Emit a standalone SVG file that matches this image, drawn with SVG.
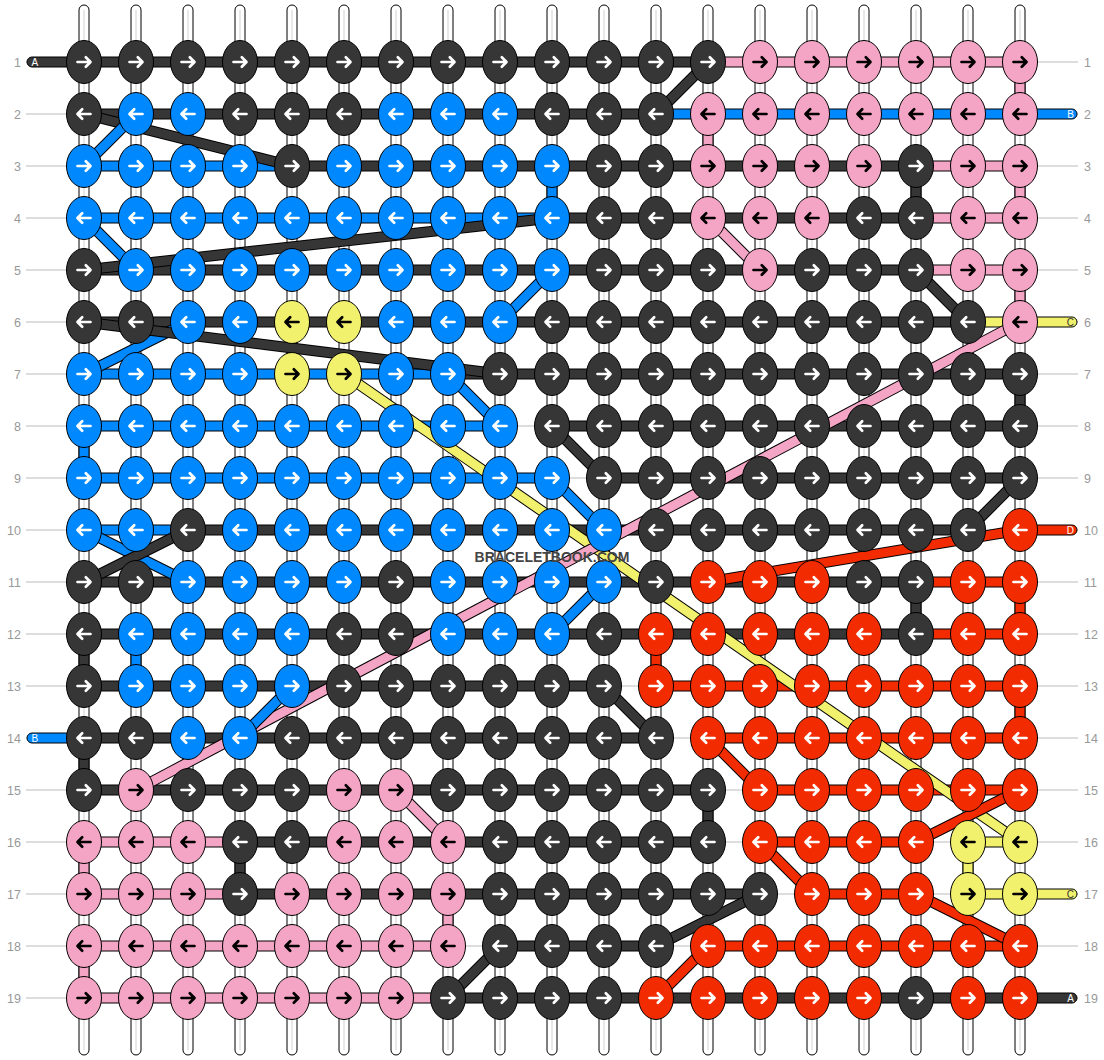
<svg xmlns="http://www.w3.org/2000/svg" xmlns:xlink="http://www.w3.org/1999/xlink" width="1104" height="1060" viewBox="0 0 1104 1060">
<style>
rect{stroke:#000;stroke-width:1}
rect.bg{stroke:none;fill:#fff}
.D{fill:#363636}.B{fill:#0088ff}.P{fill:#f4a4c4}.Y{fill:#f2f16d}.R{fill:#f22c00}.W{fill:#fff}
line{stroke-width:9}
.o{stroke:#000;stroke-width:11}
.lD{stroke:#363636}.lB{stroke:#0088ff}.lP{stroke:#f4a4c4}.lY{stroke:#f2f16d}.lR{stroke:#f22c00}
.g{stroke:#bbb;stroke-width:1}
.c{stroke:#d0d0d0;stroke-width:1}
ellipse{stroke:#000;stroke-width:1}
.kD{fill:#363636}.kB{fill:#0088ff}.kP{fill:#f4a4c4}.kY{fill:#f2f16d}.kR{fill:#f22c00}
.aw,.ab{fill:none;stroke-width:2.7;stroke-linecap:round;stroke-linejoin:round}
.aw{stroke:#fff}.ab{stroke:#000}
text{font-family:"Liberation Sans",Arial,sans-serif}
.ln{font-size:12.5px;fill:#999}
.tl{font-size:10px}
.wm{font-size:14px;font-weight:bold;fill:#444}
</style>
<defs>
<path id="ar" d="M-6.5,0H6M1.8,-4.8L6.5,0L1.8,4.8"/>
<path id="al" d="M6.5,0H-6M-1.8,-4.8L-6.5,0L-1.8,4.8"/>
<g id="DR"><ellipse class="kD" rx="17.5" ry="21.5"/><use href="#ar" class="aw"/></g>
<g id="DL"><ellipse class="kD" rx="17.5" ry="21.5"/><use href="#al" class="aw"/></g>
<g id="BR"><ellipse class="kB" rx="17.5" ry="21.5"/><use href="#ar" class="aw"/></g>
<g id="BL"><ellipse class="kB" rx="17.5" ry="21.5"/><use href="#al" class="aw"/></g>
<g id="RR"><ellipse class="kR" rx="17.5" ry="21.5"/><use href="#ar" class="aw"/></g>
<g id="RL"><ellipse class="kR" rx="17.5" ry="21.5"/><use href="#al" class="aw"/></g>
<g id="PR"><ellipse class="kP" rx="17.5" ry="21.5"/><use href="#ar" class="ab"/></g>
<g id="PL"><ellipse class="kP" rx="17.5" ry="21.5"/><use href="#al" class="ab"/></g>
<g id="YR"><ellipse class="kY" rx="17.5" ry="21.5"/><use href="#ar" class="ab"/></g>
<g id="YL"><ellipse class="kY" rx="17.5" ry="21.5"/><use href="#al" class="ab"/></g>
</defs>
<rect class="bg" x="0" y="0" width="1104" height="1060"/>
<g id="warp">
<rect class="W" x="79" y="5" width="10" height="1050" rx="5"/><rect class="W" x="131" y="5" width="10" height="1050" rx="5"/><rect class="W" x="183" y="5" width="10" height="1050" rx="5"/><rect class="W" x="235" y="5" width="10" height="1050" rx="5"/><rect class="W" x="287" y="5" width="10" height="1050" rx="5"/><rect class="W" x="339" y="5" width="10" height="1050" rx="5"/><rect class="W" x="391" y="5" width="10" height="1050" rx="5"/><rect class="W" x="443" y="5" width="10" height="1050" rx="5"/><rect class="W" x="495" y="5" width="10" height="1050" rx="5"/><rect class="W" x="547" y="5" width="10" height="1050" rx="5"/><rect class="W" x="599" y="5" width="10" height="1050" rx="5"/><rect class="W" x="651" y="5" width="10" height="1050" rx="5"/><rect class="W" x="703" y="5" width="10" height="1050" rx="5"/><rect class="W" x="755" y="5" width="10" height="1050" rx="5"/><rect class="W" x="807" y="5" width="10" height="1050" rx="5"/><rect class="W" x="859" y="5" width="10" height="1050" rx="5"/><rect class="W" x="911" y="5" width="10" height="1050" rx="5"/><rect class="W" x="963" y="5" width="10" height="1050" rx="5"/><rect class="W" x="1015" y="5" width="10" height="1050" rx="5"/>
<line class="c" x1="84" y1="10" x2="84" y2="1050"/><line class="c" x1="136" y1="10" x2="136" y2="1050"/><line class="c" x1="188" y1="10" x2="188" y2="1050"/><line class="c" x1="240" y1="10" x2="240" y2="1050"/><line class="c" x1="292" y1="10" x2="292" y2="1050"/><line class="c" x1="344" y1="10" x2="344" y2="1050"/><line class="c" x1="396" y1="10" x2="396" y2="1050"/><line class="c" x1="448" y1="10" x2="448" y2="1050"/><line class="c" x1="500" y1="10" x2="500" y2="1050"/><line class="c" x1="552" y1="10" x2="552" y2="1050"/><line class="c" x1="604" y1="10" x2="604" y2="1050"/><line class="c" x1="656" y1="10" x2="656" y2="1050"/><line class="c" x1="708" y1="10" x2="708" y2="1050"/><line class="c" x1="760" y1="10" x2="760" y2="1050"/><line class="c" x1="812" y1="10" x2="812" y2="1050"/><line class="c" x1="864" y1="10" x2="864" y2="1050"/><line class="c" x1="916" y1="10" x2="916" y2="1050"/><line class="c" x1="968" y1="10" x2="968" y2="1050"/><line class="c" x1="1020" y1="10" x2="1020" y2="1050"/>
</g>
<g id="rowlines">
<line class="g" x1="26" y1="62" x2="1078" y2="62"/><line class="g" x1="26" y1="114" x2="1078" y2="114"/><line class="g" x1="26" y1="166" x2="1078" y2="166"/><line class="g" x1="26" y1="218" x2="1078" y2="218"/><line class="g" x1="26" y1="270" x2="1078" y2="270"/><line class="g" x1="26" y1="322" x2="1078" y2="322"/><line class="g" x1="26" y1="374" x2="1078" y2="374"/><line class="g" x1="26" y1="426" x2="1078" y2="426"/><line class="g" x1="26" y1="478" x2="1078" y2="478"/><line class="g" x1="26" y1="530" x2="1078" y2="530"/><line class="g" x1="26" y1="582" x2="1078" y2="582"/><line class="g" x1="26" y1="634" x2="1078" y2="634"/><line class="g" x1="26" y1="686" x2="1078" y2="686"/><line class="g" x1="26" y1="738" x2="1078" y2="738"/><line class="g" x1="26" y1="790" x2="1078" y2="790"/><line class="g" x1="26" y1="842" x2="1078" y2="842"/><line class="g" x1="26" y1="894" x2="1078" y2="894"/><line class="g" x1="26" y1="946" x2="1078" y2="946"/><line class="g" x1="26" y1="998" x2="1078" y2="998"/>
</g>
<g id="connectors">
<rect class="D" x="27" y="57" width="681" height="10" rx="5"/><rect class="P" x="708" y="57" width="312" height="10"/>
<rect class="D" x="84" y="109" width="572" height="10"/><rect class="B" x="656" y="109" width="421" height="10" rx="5"/>
<rect class="B" x="84" y="161" width="208" height="10"/><rect class="D" x="292" y="161" width="624" height="10"/><rect class="P" x="916" y="161" width="104" height="10"/>
<rect class="B" x="84" y="213" width="468" height="10"/><rect class="D" x="552" y="213" width="364" height="10"/><rect class="P" x="916" y="213" width="104" height="10"/>
<rect class="D" x="84" y="265" width="832" height="10"/><rect class="P" x="916" y="265" width="104" height="10"/>
<rect class="D" x="84" y="317" width="884" height="10"/><rect class="Y" x="968" y="317" width="109" height="10" rx="5"/>
<rect class="B" x="84" y="369" width="364" height="10"/><rect class="D" x="448" y="369" width="572" height="10"/>
<rect class="B" x="84" y="421" width="416" height="10"/><rect class="D" x="552" y="421" width="468" height="10"/>
<rect class="B" x="84" y="473" width="468" height="10"/><rect class="D" x="604" y="473" width="416" height="10"/>
<rect class="B" x="84" y="525" width="104" height="10"/><rect class="D" x="188" y="525" width="780" height="10"/><rect class="R" x="1020" y="525" width="57" height="10" rx="5"/>
<rect class="D" x="84" y="577" width="832" height="10"/><rect class="R" x="916" y="577" width="104" height="10"/>
<rect class="D" x="84" y="629" width="832" height="10"/><rect class="R" x="916" y="629" width="104" height="10"/>
<rect class="D" x="84" y="681" width="520" height="10"/><rect class="R" x="656" y="681" width="364" height="10"/>
<rect class="B" x="27" y="733" width="57" height="10" rx="5"/><rect class="D" x="84" y="733" width="572" height="10"/><rect class="R" x="708" y="733" width="312" height="10"/>
<rect class="D" x="84" y="785" width="624" height="10"/><rect class="R" x="760" y="785" width="260" height="10"/>
<rect class="P" x="84" y="837" width="156" height="10"/><rect class="D" x="240" y="837" width="468" height="10"/><rect class="R" x="760" y="837" width="156" height="10"/><rect class="Y" x="968" y="837" width="52" height="10"/>
<rect class="P" x="84" y="889" width="156" height="10"/><rect class="D" x="240" y="889" width="520" height="10"/><rect class="R" x="812" y="889" width="104" height="10"/><rect class="Y" x="968" y="889" width="109" height="10" rx="5"/>
<rect class="P" x="84" y="941" width="364" height="10"/><rect class="D" x="500" y="941" width="156" height="10"/><rect class="R" x="708" y="941" width="312" height="10"/>
<rect class="P" x="84" y="993" width="364" height="10"/><rect class="D" x="448" y="993" width="629" height="10" rx="5"/>
<rect class="P" x="1015" y="62" width="10" height="52"/>
<rect class="P" x="703" y="114" width="10" height="52"/>
<rect class="B" x="547" y="166" width="10" height="52"/>
<rect class="D" x="911" y="166" width="10" height="52"/>
<rect class="P" x="1015" y="166" width="10" height="52"/>
<rect class="P" x="1015" y="270" width="10" height="52"/>
<rect class="D" x="1015" y="374" width="10" height="52"/>
<rect class="B" x="79" y="426" width="10" height="52"/>
<rect class="R" x="1015" y="582" width="10" height="52"/>
<rect class="D" x="911" y="582" width="10" height="52"/>
<rect class="D" x="79" y="634" width="10" height="52"/>
<rect class="B" x="131" y="634" width="10" height="52"/>
<rect class="R" x="651" y="634" width="10" height="52"/>
<rect class="R" x="1015" y="686" width="10" height="52"/>
<rect class="D" x="79" y="738" width="10" height="52"/>
<rect class="D" x="703" y="790" width="10" height="52"/>
<rect class="P" x="79" y="842" width="10" height="52"/>
<rect class="D" x="235" y="842" width="10" height="52"/>
<rect class="Y" x="963" y="842" width="10" height="52"/>
<rect class="P" x="443" y="894" width="10" height="52"/>
<rect class="P" x="79" y="946" width="10" height="52"/>
<line class="o" x1="708" y1="62" x2="656" y2="114"/><line class="lD" x1="708" y1="62" x2="656" y2="114"/>
<line class="o" x1="84" y1="114" x2="292" y2="166"/><line class="lD" x1="84" y1="114" x2="292" y2="166"/>
<line class="o" x1="84" y1="166" x2="136" y2="114"/><line class="lB" x1="84" y1="166" x2="136" y2="114"/>
<line class="o" x1="84" y1="218" x2="136" y2="270"/><line class="lB" x1="84" y1="218" x2="136" y2="270"/>
<line class="o" x1="84" y1="270" x2="552" y2="218"/><line class="lD" x1="84" y1="270" x2="552" y2="218"/>
<line class="o" x1="708" y1="218" x2="760" y2="270"/><line class="lP" x1="708" y1="218" x2="760" y2="270"/>
<line class="o" x1="916" y1="270" x2="968" y2="322"/><line class="lD" x1="916" y1="270" x2="968" y2="322"/>
<line class="o" x1="552" y1="270" x2="500" y2="322"/><line class="lB" x1="552" y1="270" x2="500" y2="322"/>
<line class="o" x1="84" y1="374" x2="188" y2="322"/><line class="lB" x1="84" y1="374" x2="188" y2="322"/>
<line class="o" x1="84" y1="322" x2="500" y2="374"/><line class="lD" x1="84" y1="322" x2="500" y2="374"/>
<line class="o" x1="448" y1="374" x2="500" y2="426"/><line class="lB" x1="448" y1="374" x2="500" y2="426"/>
<line class="o" x1="552" y1="426" x2="604" y2="478"/><line class="lD" x1="552" y1="426" x2="604" y2="478"/>
<line class="o" x1="552" y1="478" x2="604" y2="530"/><line class="lB" x1="552" y1="478" x2="604" y2="530"/>
<line class="o" x1="1020" y1="478" x2="968" y2="530"/><line class="lD" x1="1020" y1="478" x2="968" y2="530"/>
<line class="o" x1="344" y1="374" x2="1020" y2="842"/><line class="lY" x1="344" y1="374" x2="1020" y2="842"/>
<line class="o" x1="1020" y1="322" x2="136" y2="790"/><line class="lP" x1="1020" y1="322" x2="136" y2="790"/>
<line class="o" x1="1020" y1="530" x2="708" y2="582"/><line class="lR" x1="1020" y1="530" x2="708" y2="582"/>
<line class="o" x1="84" y1="530" x2="188" y2="582"/><line class="lB" x1="84" y1="530" x2="188" y2="582"/>
<line class="o" x1="84" y1="582" x2="188" y2="530"/><line class="lD" x1="84" y1="582" x2="188" y2="530"/>
<line class="o" x1="604" y1="582" x2="552" y2="634"/><line class="lB" x1="604" y1="582" x2="552" y2="634"/>
<line class="o" x1="604" y1="686" x2="656" y2="738"/><line class="lD" x1="604" y1="686" x2="656" y2="738"/>
<line class="o" x1="292" y1="686" x2="240" y2="738"/><line class="lB" x1="292" y1="686" x2="240" y2="738"/>
<line class="o" x1="708" y1="738" x2="760" y2="790"/><line class="lR" x1="708" y1="738" x2="760" y2="790"/>
<line class="o" x1="396" y1="790" x2="448" y2="842"/><line class="lP" x1="396" y1="790" x2="448" y2="842"/>
<line class="o" x1="916" y1="842" x2="1020" y2="790"/><line class="lR" x1="916" y1="842" x2="1020" y2="790"/>
<line class="o" x1="760" y1="842" x2="812" y2="894"/><line class="lR" x1="760" y1="842" x2="812" y2="894"/>
<line class="o" x1="760" y1="894" x2="656" y2="946"/><line class="lD" x1="760" y1="894" x2="656" y2="946"/>
<line class="o" x1="916" y1="894" x2="1020" y2="946"/><line class="lR" x1="916" y1="894" x2="1020" y2="946"/>
<line class="o" x1="500" y1="946" x2="448" y2="998"/><line class="lD" x1="500" y1="946" x2="448" y2="998"/>
<line class="o" x1="708" y1="946" x2="656" y2="998"/><line class="lR" x1="708" y1="946" x2="656" y2="998"/>
</g>
<g id="knots">
<g id="n1-1"><use href="#DR" x="84" y="62"/></g><g id="n1-2"><use href="#DR" x="136" y="62"/></g><g id="n1-3"><use href="#DR" x="188" y="62"/></g><g id="n1-4"><use href="#DR" x="240" y="62"/></g><g id="n1-5"><use href="#DR" x="292" y="62"/></g><g id="n1-6"><use href="#DR" x="344" y="62"/></g><g id="n1-7"><use href="#DR" x="396" y="62"/></g><g id="n1-8"><use href="#DR" x="448" y="62"/></g><g id="n1-9"><use href="#DR" x="500" y="62"/></g><g id="n1-10"><use href="#DR" x="552" y="62"/></g><g id="n1-11"><use href="#DR" x="604" y="62"/></g><g id="n1-12"><use href="#DR" x="656" y="62"/></g><g id="n1-13"><use href="#DR" x="708" y="62"/></g><g id="n1-14"><use href="#PR" x="760" y="62"/></g><g id="n1-15"><use href="#PR" x="812" y="62"/></g><g id="n1-16"><use href="#PR" x="864" y="62"/></g><g id="n1-17"><use href="#PR" x="916" y="62"/></g><g id="n1-18"><use href="#PR" x="968" y="62"/></g><g id="n1-19"><use href="#PR" x="1020" y="62"/></g>
<g id="n2-1"><use href="#DL" x="84" y="114"/></g><g id="n2-2"><use href="#BL" x="136" y="114"/></g><g id="n2-3"><use href="#BL" x="188" y="114"/></g><g id="n2-4"><use href="#DL" x="240" y="114"/></g><g id="n2-5"><use href="#DL" x="292" y="114"/></g><g id="n2-6"><use href="#DL" x="344" y="114"/></g><g id="n2-7"><use href="#BL" x="396" y="114"/></g><g id="n2-8"><use href="#BL" x="448" y="114"/></g><g id="n2-9"><use href="#BL" x="500" y="114"/></g><g id="n2-10"><use href="#DL" x="552" y="114"/></g><g id="n2-11"><use href="#DL" x="604" y="114"/></g><g id="n2-12"><use href="#DL" x="656" y="114"/></g><g id="n2-13"><use href="#PL" x="708" y="114"/></g><g id="n2-14"><use href="#PL" x="760" y="114"/></g><g id="n2-15"><use href="#PL" x="812" y="114"/></g><g id="n2-16"><use href="#PL" x="864" y="114"/></g><g id="n2-17"><use href="#PL" x="916" y="114"/></g><g id="n2-18"><use href="#PL" x="968" y="114"/></g><g id="n2-19"><use href="#PL" x="1020" y="114"/></g>
<g id="n3-1"><use href="#BR" x="84" y="166"/></g><g id="n3-2"><use href="#BR" x="136" y="166"/></g><g id="n3-3"><use href="#BR" x="188" y="166"/></g><g id="n3-4"><use href="#BR" x="240" y="166"/></g><g id="n3-5"><use href="#DR" x="292" y="166"/></g><g id="n3-6"><use href="#BR" x="344" y="166"/></g><g id="n3-7"><use href="#BR" x="396" y="166"/></g><g id="n3-8"><use href="#BR" x="448" y="166"/></g><g id="n3-9"><use href="#BR" x="500" y="166"/></g><g id="n3-10"><use href="#BR" x="552" y="166"/></g><g id="n3-11"><use href="#DR" x="604" y="166"/></g><g id="n3-12"><use href="#DR" x="656" y="166"/></g><g id="n3-13"><use href="#PR" x="708" y="166"/></g><g id="n3-14"><use href="#PR" x="760" y="166"/></g><g id="n3-15"><use href="#PR" x="812" y="166"/></g><g id="n3-16"><use href="#PR" x="864" y="166"/></g><g id="n3-17"><use href="#DR" x="916" y="166"/></g><g id="n3-18"><use href="#PR" x="968" y="166"/></g><g id="n3-19"><use href="#PR" x="1020" y="166"/></g>
<g id="n4-1"><use href="#BL" x="84" y="218"/></g><g id="n4-2"><use href="#BL" x="136" y="218"/></g><g id="n4-3"><use href="#BL" x="188" y="218"/></g><g id="n4-4"><use href="#BL" x="240" y="218"/></g><g id="n4-5"><use href="#BL" x="292" y="218"/></g><g id="n4-6"><use href="#BL" x="344" y="218"/></g><g id="n4-7"><use href="#BL" x="396" y="218"/></g><g id="n4-8"><use href="#BL" x="448" y="218"/></g><g id="n4-9"><use href="#BL" x="500" y="218"/></g><g id="n4-10"><use href="#BL" x="552" y="218"/></g><g id="n4-11"><use href="#DL" x="604" y="218"/></g><g id="n4-12"><use href="#DL" x="656" y="218"/></g><g id="n4-13"><use href="#PL" x="708" y="218"/></g><g id="n4-14"><use href="#PL" x="760" y="218"/></g><g id="n4-15"><use href="#PL" x="812" y="218"/></g><g id="n4-16"><use href="#DL" x="864" y="218"/></g><g id="n4-17"><use href="#DL" x="916" y="218"/></g><g id="n4-18"><use href="#PL" x="968" y="218"/></g><g id="n4-19"><use href="#PL" x="1020" y="218"/></g>
<g id="n5-1"><use href="#DR" x="84" y="270"/></g><g id="n5-2"><use href="#BR" x="136" y="270"/></g><g id="n5-3"><use href="#BR" x="188" y="270"/></g><g id="n5-4"><use href="#BR" x="240" y="270"/></g><g id="n5-5"><use href="#BR" x="292" y="270"/></g><g id="n5-6"><use href="#BR" x="344" y="270"/></g><g id="n5-7"><use href="#BR" x="396" y="270"/></g><g id="n5-8"><use href="#BR" x="448" y="270"/></g><g id="n5-9"><use href="#BR" x="500" y="270"/></g><g id="n5-10"><use href="#BR" x="552" y="270"/></g><g id="n5-11"><use href="#DR" x="604" y="270"/></g><g id="n5-12"><use href="#DR" x="656" y="270"/></g><g id="n5-13"><use href="#DR" x="708" y="270"/></g><g id="n5-14"><use href="#PR" x="760" y="270"/></g><g id="n5-15"><use href="#DR" x="812" y="270"/></g><g id="n5-16"><use href="#DR" x="864" y="270"/></g><g id="n5-17"><use href="#DR" x="916" y="270"/></g><g id="n5-18"><use href="#PR" x="968" y="270"/></g><g id="n5-19"><use href="#PR" x="1020" y="270"/></g>
<g id="n6-1"><use href="#DL" x="84" y="322"/></g><g id="n6-2"><use href="#DL" x="136" y="322"/></g><g id="n6-3"><use href="#BL" x="188" y="322"/></g><g id="n6-4"><use href="#BL" x="240" y="322"/></g><g id="n6-5"><use href="#YL" x="292" y="322"/></g><g id="n6-6"><use href="#YL" x="344" y="322"/></g><g id="n6-7"><use href="#BL" x="396" y="322"/></g><g id="n6-8"><use href="#BL" x="448" y="322"/></g><g id="n6-9"><use href="#BL" x="500" y="322"/></g><g id="n6-10"><use href="#DL" x="552" y="322"/></g><g id="n6-11"><use href="#DL" x="604" y="322"/></g><g id="n6-12"><use href="#DL" x="656" y="322"/></g><g id="n6-13"><use href="#DL" x="708" y="322"/></g><g id="n6-14"><use href="#DL" x="760" y="322"/></g><g id="n6-15"><use href="#DL" x="812" y="322"/></g><g id="n6-16"><use href="#DL" x="864" y="322"/></g><g id="n6-17"><use href="#DL" x="916" y="322"/></g><g id="n6-18"><use href="#DL" x="968" y="322"/></g><g id="n6-19"><use href="#PL" x="1020" y="322"/></g>
<g id="n7-1"><use href="#BR" x="84" y="374"/></g><g id="n7-2"><use href="#BR" x="136" y="374"/></g><g id="n7-3"><use href="#BR" x="188" y="374"/></g><g id="n7-4"><use href="#BR" x="240" y="374"/></g><g id="n7-5"><use href="#YR" x="292" y="374"/></g><g id="n7-6"><use href="#YR" x="344" y="374"/></g><g id="n7-7"><use href="#BR" x="396" y="374"/></g><g id="n7-8"><use href="#BR" x="448" y="374"/></g><g id="n7-9"><use href="#DR" x="500" y="374"/></g><g id="n7-10"><use href="#DR" x="552" y="374"/></g><g id="n7-11"><use href="#DR" x="604" y="374"/></g><g id="n7-12"><use href="#DR" x="656" y="374"/></g><g id="n7-13"><use href="#DR" x="708" y="374"/></g><g id="n7-14"><use href="#DR" x="760" y="374"/></g><g id="n7-15"><use href="#DR" x="812" y="374"/></g><g id="n7-16"><use href="#DR" x="864" y="374"/></g><g id="n7-17"><use href="#DR" x="916" y="374"/></g><g id="n7-18"><use href="#DR" x="968" y="374"/></g><g id="n7-19"><use href="#DR" x="1020" y="374"/></g>
<g id="n8-1"><use href="#BL" x="84" y="426"/></g><g id="n8-2"><use href="#BL" x="136" y="426"/></g><g id="n8-3"><use href="#BL" x="188" y="426"/></g><g id="n8-4"><use href="#BL" x="240" y="426"/></g><g id="n8-5"><use href="#BL" x="292" y="426"/></g><g id="n8-6"><use href="#BL" x="344" y="426"/></g><g id="n8-7"><use href="#BL" x="396" y="426"/></g><g id="n8-8"><use href="#BL" x="448" y="426"/></g><g id="n8-9"><use href="#BL" x="500" y="426"/></g><g id="n8-10"><use href="#DL" x="552" y="426"/></g><g id="n8-11"><use href="#DL" x="604" y="426"/></g><g id="n8-12"><use href="#DL" x="656" y="426"/></g><g id="n8-13"><use href="#DL" x="708" y="426"/></g><g id="n8-14"><use href="#DL" x="760" y="426"/></g><g id="n8-15"><use href="#DL" x="812" y="426"/></g><g id="n8-16"><use href="#DL" x="864" y="426"/></g><g id="n8-17"><use href="#DL" x="916" y="426"/></g><g id="n8-18"><use href="#DL" x="968" y="426"/></g><g id="n8-19"><use href="#DL" x="1020" y="426"/></g>
<g id="n9-1"><use href="#BR" x="84" y="478"/></g><g id="n9-2"><use href="#BR" x="136" y="478"/></g><g id="n9-3"><use href="#BR" x="188" y="478"/></g><g id="n9-4"><use href="#BR" x="240" y="478"/></g><g id="n9-5"><use href="#BR" x="292" y="478"/></g><g id="n9-6"><use href="#BR" x="344" y="478"/></g><g id="n9-7"><use href="#BR" x="396" y="478"/></g><g id="n9-8"><use href="#BR" x="448" y="478"/></g><g id="n9-9"><use href="#BR" x="500" y="478"/></g><g id="n9-10"><use href="#BR" x="552" y="478"/></g><g id="n9-11"><use href="#DR" x="604" y="478"/></g><g id="n9-12"><use href="#DR" x="656" y="478"/></g><g id="n9-13"><use href="#DR" x="708" y="478"/></g><g id="n9-14"><use href="#DR" x="760" y="478"/></g><g id="n9-15"><use href="#DR" x="812" y="478"/></g><g id="n9-16"><use href="#DR" x="864" y="478"/></g><g id="n9-17"><use href="#DR" x="916" y="478"/></g><g id="n9-18"><use href="#DR" x="968" y="478"/></g><g id="n9-19"><use href="#DR" x="1020" y="478"/></g>
<g id="n10-1"><use href="#BL" x="84" y="530"/></g><g id="n10-2"><use href="#BL" x="136" y="530"/></g><g id="n10-3"><use href="#DL" x="188" y="530"/></g><g id="n10-4"><use href="#BL" x="240" y="530"/></g><g id="n10-5"><use href="#BL" x="292" y="530"/></g><g id="n10-6"><use href="#BL" x="344" y="530"/></g><g id="n10-7"><use href="#BL" x="396" y="530"/></g><g id="n10-8"><use href="#BL" x="448" y="530"/></g><g id="n10-9"><use href="#BL" x="500" y="530"/></g><g id="n10-10"><use href="#BL" x="552" y="530"/></g><g id="n10-11"><use href="#BL" x="604" y="530"/></g><g id="n10-12"><use href="#DL" x="656" y="530"/></g><g id="n10-13"><use href="#DL" x="708" y="530"/></g><g id="n10-14"><use href="#DL" x="760" y="530"/></g><g id="n10-15"><use href="#DL" x="812" y="530"/></g><g id="n10-16"><use href="#DL" x="864" y="530"/></g><g id="n10-17"><use href="#DL" x="916" y="530"/></g><g id="n10-18"><use href="#DL" x="968" y="530"/></g><g id="n10-19"><use href="#RL" x="1020" y="530"/></g>
<g id="n11-1"><use href="#DR" x="84" y="582"/></g><g id="n11-2"><use href="#DR" x="136" y="582"/></g><g id="n11-3"><use href="#BR" x="188" y="582"/></g><g id="n11-4"><use href="#BR" x="240" y="582"/></g><g id="n11-5"><use href="#BR" x="292" y="582"/></g><g id="n11-6"><use href="#BR" x="344" y="582"/></g><g id="n11-7"><use href="#DR" x="396" y="582"/></g><g id="n11-8"><use href="#BR" x="448" y="582"/></g><g id="n11-9"><use href="#BR" x="500" y="582"/></g><g id="n11-10"><use href="#BR" x="552" y="582"/></g><g id="n11-11"><use href="#BR" x="604" y="582"/></g><g id="n11-12"><use href="#DR" x="656" y="582"/></g><g id="n11-13"><use href="#RR" x="708" y="582"/></g><g id="n11-14"><use href="#RR" x="760" y="582"/></g><g id="n11-15"><use href="#RR" x="812" y="582"/></g><g id="n11-16"><use href="#DR" x="864" y="582"/></g><g id="n11-17"><use href="#DR" x="916" y="582"/></g><g id="n11-18"><use href="#RR" x="968" y="582"/></g><g id="n11-19"><use href="#RR" x="1020" y="582"/></g>
<g id="n12-1"><use href="#DL" x="84" y="634"/></g><g id="n12-2"><use href="#BL" x="136" y="634"/></g><g id="n12-3"><use href="#BL" x="188" y="634"/></g><g id="n12-4"><use href="#BL" x="240" y="634"/></g><g id="n12-5"><use href="#BL" x="292" y="634"/></g><g id="n12-6"><use href="#DL" x="344" y="634"/></g><g id="n12-7"><use href="#DL" x="396" y="634"/></g><g id="n12-8"><use href="#BL" x="448" y="634"/></g><g id="n12-9"><use href="#BL" x="500" y="634"/></g><g id="n12-10"><use href="#BL" x="552" y="634"/></g><g id="n12-11"><use href="#DL" x="604" y="634"/></g><g id="n12-12"><use href="#RL" x="656" y="634"/></g><g id="n12-13"><use href="#RL" x="708" y="634"/></g><g id="n12-14"><use href="#RL" x="760" y="634"/></g><g id="n12-15"><use href="#RL" x="812" y="634"/></g><g id="n12-16"><use href="#RL" x="864" y="634"/></g><g id="n12-17"><use href="#DL" x="916" y="634"/></g><g id="n12-18"><use href="#RL" x="968" y="634"/></g><g id="n12-19"><use href="#RL" x="1020" y="634"/></g>
<g id="n13-1"><use href="#DR" x="84" y="686"/></g><g id="n13-2"><use href="#BR" x="136" y="686"/></g><g id="n13-3"><use href="#BR" x="188" y="686"/></g><g id="n13-4"><use href="#BR" x="240" y="686"/></g><g id="n13-5"><use href="#BR" x="292" y="686"/></g><g id="n13-6"><use href="#DR" x="344" y="686"/></g><g id="n13-7"><use href="#DR" x="396" y="686"/></g><g id="n13-8"><use href="#DR" x="448" y="686"/></g><g id="n13-9"><use href="#DR" x="500" y="686"/></g><g id="n13-10"><use href="#DR" x="552" y="686"/></g><g id="n13-11"><use href="#DR" x="604" y="686"/></g><g id="n13-12"><use href="#RR" x="656" y="686"/></g><g id="n13-13"><use href="#RR" x="708" y="686"/></g><g id="n13-14"><use href="#RR" x="760" y="686"/></g><g id="n13-15"><use href="#RR" x="812" y="686"/></g><g id="n13-16"><use href="#RR" x="864" y="686"/></g><g id="n13-17"><use href="#RR" x="916" y="686"/></g><g id="n13-18"><use href="#RR" x="968" y="686"/></g><g id="n13-19"><use href="#RR" x="1020" y="686"/></g>
<g id="n14-1"><use href="#DL" x="84" y="738"/></g><g id="n14-2"><use href="#DL" x="136" y="738"/></g><g id="n14-3"><use href="#BL" x="188" y="738"/></g><g id="n14-4"><use href="#BL" x="240" y="738"/></g><g id="n14-5"><use href="#DL" x="292" y="738"/></g><g id="n14-6"><use href="#DL" x="344" y="738"/></g><g id="n14-7"><use href="#DL" x="396" y="738"/></g><g id="n14-8"><use href="#DL" x="448" y="738"/></g><g id="n14-9"><use href="#DL" x="500" y="738"/></g><g id="n14-10"><use href="#DL" x="552" y="738"/></g><g id="n14-11"><use href="#DL" x="604" y="738"/></g><g id="n14-12"><use href="#DL" x="656" y="738"/></g><g id="n14-13"><use href="#RL" x="708" y="738"/></g><g id="n14-14"><use href="#RL" x="760" y="738"/></g><g id="n14-15"><use href="#RL" x="812" y="738"/></g><g id="n14-16"><use href="#RL" x="864" y="738"/></g><g id="n14-17"><use href="#RL" x="916" y="738"/></g><g id="n14-18"><use href="#RL" x="968" y="738"/></g><g id="n14-19"><use href="#RL" x="1020" y="738"/></g>
<g id="n15-1"><use href="#DR" x="84" y="790"/></g><g id="n15-2"><use href="#PR" x="136" y="790"/></g><g id="n15-3"><use href="#DR" x="188" y="790"/></g><g id="n15-4"><use href="#DR" x="240" y="790"/></g><g id="n15-5"><use href="#DR" x="292" y="790"/></g><g id="n15-6"><use href="#PR" x="344" y="790"/></g><g id="n15-7"><use href="#PR" x="396" y="790"/></g><g id="n15-8"><use href="#DR" x="448" y="790"/></g><g id="n15-9"><use href="#DR" x="500" y="790"/></g><g id="n15-10"><use href="#DR" x="552" y="790"/></g><g id="n15-11"><use href="#DR" x="604" y="790"/></g><g id="n15-12"><use href="#DR" x="656" y="790"/></g><g id="n15-13"><use href="#DR" x="708" y="790"/></g><g id="n15-14"><use href="#RR" x="760" y="790"/></g><g id="n15-15"><use href="#RR" x="812" y="790"/></g><g id="n15-16"><use href="#RR" x="864" y="790"/></g><g id="n15-17"><use href="#RR" x="916" y="790"/></g><g id="n15-18"><use href="#RR" x="968" y="790"/></g><g id="n15-19"><use href="#RR" x="1020" y="790"/></g>
<g id="n16-1"><use href="#PL" x="84" y="842"/></g><g id="n16-2"><use href="#PL" x="136" y="842"/></g><g id="n16-3"><use href="#PL" x="188" y="842"/></g><g id="n16-4"><use href="#DL" x="240" y="842"/></g><g id="n16-5"><use href="#DL" x="292" y="842"/></g><g id="n16-6"><use href="#PL" x="344" y="842"/></g><g id="n16-7"><use href="#PL" x="396" y="842"/></g><g id="n16-8"><use href="#PL" x="448" y="842"/></g><g id="n16-9"><use href="#DL" x="500" y="842"/></g><g id="n16-10"><use href="#DL" x="552" y="842"/></g><g id="n16-11"><use href="#DL" x="604" y="842"/></g><g id="n16-12"><use href="#DL" x="656" y="842"/></g><g id="n16-13"><use href="#DL" x="708" y="842"/></g><g id="n16-14"><use href="#RL" x="760" y="842"/></g><g id="n16-15"><use href="#RL" x="812" y="842"/></g><g id="n16-16"><use href="#RL" x="864" y="842"/></g><g id="n16-17"><use href="#RL" x="916" y="842"/></g><g id="n16-18"><use href="#YL" x="968" y="842"/></g><g id="n16-19"><use href="#YL" x="1020" y="842"/></g>
<g id="n17-1"><use href="#PR" x="84" y="894"/></g><g id="n17-2"><use href="#PR" x="136" y="894"/></g><g id="n17-3"><use href="#PR" x="188" y="894"/></g><g id="n17-4"><use href="#DR" x="240" y="894"/></g><g id="n17-5"><use href="#PR" x="292" y="894"/></g><g id="n17-6"><use href="#PR" x="344" y="894"/></g><g id="n17-7"><use href="#PR" x="396" y="894"/></g><g id="n17-8"><use href="#PR" x="448" y="894"/></g><g id="n17-9"><use href="#DR" x="500" y="894"/></g><g id="n17-10"><use href="#DR" x="552" y="894"/></g><g id="n17-11"><use href="#DR" x="604" y="894"/></g><g id="n17-12"><use href="#DR" x="656" y="894"/></g><g id="n17-13"><use href="#DR" x="708" y="894"/></g><g id="n17-14"><use href="#DR" x="760" y="894"/></g><g id="n17-15"><use href="#RR" x="812" y="894"/></g><g id="n17-16"><use href="#RR" x="864" y="894"/></g><g id="n17-17"><use href="#RR" x="916" y="894"/></g><g id="n17-18"><use href="#YR" x="968" y="894"/></g><g id="n17-19"><use href="#YR" x="1020" y="894"/></g>
<g id="n18-1"><use href="#PL" x="84" y="946"/></g><g id="n18-2"><use href="#PL" x="136" y="946"/></g><g id="n18-3"><use href="#PL" x="188" y="946"/></g><g id="n18-4"><use href="#PL" x="240" y="946"/></g><g id="n18-5"><use href="#PL" x="292" y="946"/></g><g id="n18-6"><use href="#PL" x="344" y="946"/></g><g id="n18-7"><use href="#PL" x="396" y="946"/></g><g id="n18-8"><use href="#PL" x="448" y="946"/></g><g id="n18-9"><use href="#DL" x="500" y="946"/></g><g id="n18-10"><use href="#DL" x="552" y="946"/></g><g id="n18-11"><use href="#DL" x="604" y="946"/></g><g id="n18-12"><use href="#DL" x="656" y="946"/></g><g id="n18-13"><use href="#RL" x="708" y="946"/></g><g id="n18-14"><use href="#RL" x="760" y="946"/></g><g id="n18-15"><use href="#RL" x="812" y="946"/></g><g id="n18-16"><use href="#RL" x="864" y="946"/></g><g id="n18-17"><use href="#RL" x="916" y="946"/></g><g id="n18-18"><use href="#RL" x="968" y="946"/></g><g id="n18-19"><use href="#RL" x="1020" y="946"/></g>
<g id="n19-1"><use href="#PR" x="84" y="998"/></g><g id="n19-2"><use href="#PR" x="136" y="998"/></g><g id="n19-3"><use href="#PR" x="188" y="998"/></g><g id="n19-4"><use href="#PR" x="240" y="998"/></g><g id="n19-5"><use href="#PR" x="292" y="998"/></g><g id="n19-6"><use href="#PR" x="344" y="998"/></g><g id="n19-7"><use href="#PR" x="396" y="998"/></g><g id="n19-8"><use href="#DR" x="448" y="998"/></g><g id="n19-9"><use href="#DR" x="500" y="998"/></g><g id="n19-10"><use href="#DR" x="552" y="998"/></g><g id="n19-11"><use href="#DR" x="604" y="998"/></g><g id="n19-12"><use href="#RR" x="656" y="998"/></g><g id="n19-13"><use href="#RR" x="708" y="998"/></g><g id="n19-14"><use href="#RR" x="760" y="998"/></g><g id="n19-15"><use href="#RR" x="812" y="998"/></g><g id="n19-16"><use href="#RR" x="864" y="998"/></g><g id="n19-17"><use href="#DR" x="916" y="998"/></g><g id="n19-18"><use href="#RR" x="968" y="998"/></g><g id="n19-19"><use href="#RR" x="1020" y="998"/></g>
</g>
<g id="row-labels" class="ln">
<text x="21" y="66.5" text-anchor="end">1</text><text x="21" y="118.5" text-anchor="end">2</text><text x="21" y="170.5" text-anchor="end">3</text><text x="21" y="222.5" text-anchor="end">4</text><text x="21" y="274.5" text-anchor="end">5</text><text x="21" y="326.5" text-anchor="end">6</text><text x="21" y="378.5" text-anchor="end">7</text><text x="21" y="430.5" text-anchor="end">8</text><text x="21" y="482.5" text-anchor="end">9</text><text x="21" y="534.5" text-anchor="end">10</text><text x="21" y="586.5" text-anchor="end">11</text><text x="21" y="638.5" text-anchor="end">12</text><text x="21" y="690.5" text-anchor="end">13</text><text x="21" y="742.5" text-anchor="end">14</text><text x="21" y="794.5" text-anchor="end">15</text><text x="21" y="846.5" text-anchor="end">16</text><text x="21" y="898.5" text-anchor="end">17</text><text x="21" y="950.5" text-anchor="end">18</text><text x="21" y="1002.5" text-anchor="end">19</text>
<text x="1084" y="66.5">1</text><text x="1084" y="118.5">2</text><text x="1084" y="170.5">3</text><text x="1084" y="222.5">4</text><text x="1084" y="274.5">5</text><text x="1084" y="326.5">6</text><text x="1084" y="378.5">7</text><text x="1084" y="430.5">8</text><text x="1084" y="482.5">9</text><text x="1084" y="534.5">10</text><text x="1084" y="586.5">11</text><text x="1084" y="638.5">12</text><text x="1084" y="690.5">13</text><text x="1084" y="742.5">14</text><text x="1084" y="794.5">15</text><text x="1084" y="846.5">16</text><text x="1084" y="898.5">17</text><text x="1084" y="950.5">18</text><text x="1084" y="1002.5">19</text>
</g>
<g id="string-labels" class="tl">
<text x="31.5" y="65.6" fill="#fff">A</text>
<text x="1074" y="117.6" fill="#fff" text-anchor="end">B</text>
<text x="1074" y="325.6" fill="#333" text-anchor="end">C</text>
<text x="1074" y="533.6" fill="#fff" text-anchor="end">D</text>
<text x="31.5" y="741.6" fill="#fff">B</text>
<text x="1074" y="897.6" fill="#333" text-anchor="end">C</text>
<text x="1074" y="1001.6" fill="#fff" text-anchor="end">A</text>
</g>
<text class="wm" x="552" y="561.5" text-anchor="middle">BRACELETBOOK.COM</text>
</svg>
